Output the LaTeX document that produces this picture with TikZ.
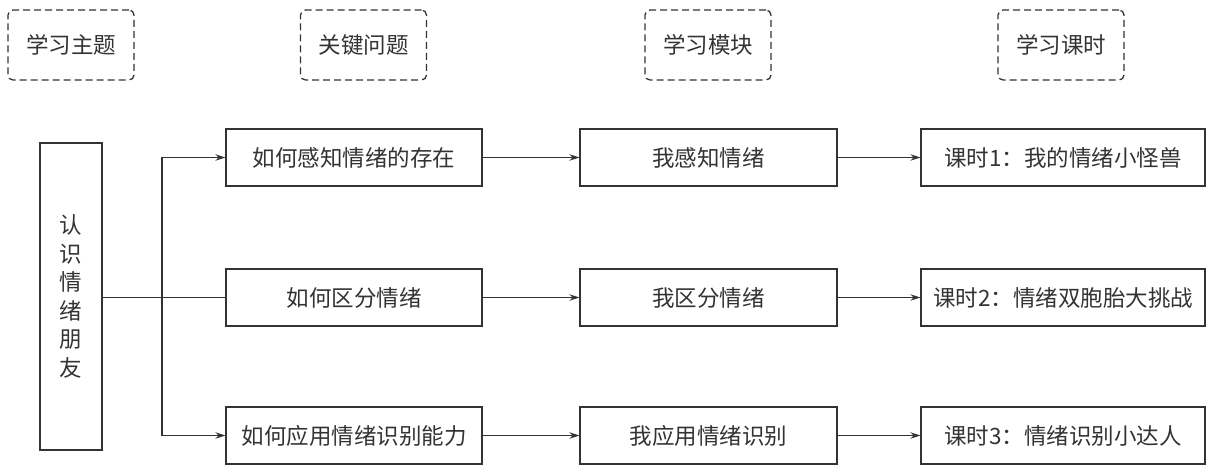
\documentclass[tikz,border=0pt]{standalone}
\usepackage{fontspec}
\setmainfont{Noto Sans CJK SC}
\usetikzlibrary{arrows.meta}
\definecolor{ln}{HTML}{333333}
\begin{document}
\begin{tikzpicture}[x=1pt,y=-1pt,
  box/.style={draw=ln,line width=1.3pt,minimum height=57pt,inner sep=0pt,font=\fontsize{22.5}{26}\selectfont,text=ln},
  hdr/.style={draw=ln,line width=1.3pt,dashed,dash pattern=on 7pt off 4pt,rounded corners=5pt,minimum width=126pt,minimum height=70pt,inner sep=0pt,font=\fontsize{22.5}{26}\selectfont,text=ln},
  arr/.style={draw=ln,line width=1.3pt,-{Stealth[length=10pt,width=6.5pt]}},
  ln/.style={draw=ln,line width=1.3pt}]
\useasboundingbox (0,0) rectangle (1215,473);
\node[hdr] (h1) at (71,45) {学习主题};
\node[hdr] (h2) at (363.5,45) {关键问题};
\node[hdr] (h3) at (708,45) {学习模块};
\node[hdr] (h4) at (1061,45) {学习课时};
\node[box,minimum width=62pt,minimum height=307pt,align=center,font=\fontsize{22.5}{28.5}\selectfont] (t) at (71,296.5) {认\\识\\情\\绪\\朋\\友};
\node[box,minimum width=256pt] (a1) at (354,157.5) {如何感知情绪的存在};
\node[box,minimum width=256pt] (a2) at (354,297.5) {如何区分情绪};
\node[box,minimum width=256pt] (a3) at (354,435.5) {如何应用情绪识别能力};
\node[box,minimum width=257pt] (b1) at (708.5,157.5) {我感知情绪};
\node[box,minimum width=257pt] (b2) at (708.5,297.5) {我区分情绪};
\node[box,minimum width=257pt] (b3) at (708.5,435.5) {我应用情绪识别};
\node[box,minimum width=284pt] (c1) at (1063,157.5) {课时1：我的情绪小怪兽};
\node[box,minimum width=284pt] (c2) at (1063,297.5) {课时2：情绪双胞胎大挑战};
\node[box,minimum width=284pt] (c3) at (1063,435.5) {课时3：情绪识别小达人};
\coordinate (br) at (162,297.5);
\draw[ln] (t.east |- br) -- (a2.west);
\draw[arr] (br) |- (a1.west);
\draw[arr] (br) |- (a3.west);
\foreach \i in {1,2,3}{
  \draw[arr] (a\i.east) -- (b\i.west);
  \draw[arr] (b\i.east) -- (c\i.west);
}
\end{tikzpicture}
\end{document}
